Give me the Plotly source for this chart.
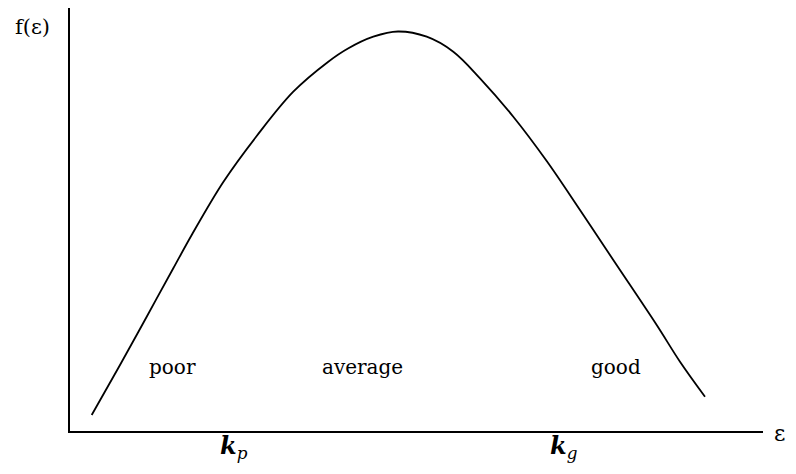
import plotly.graph_objects as go

# curve f(eps), eps measured from the axis origin
eps = [21.7, 50, 76.7, 103.3, 121.7, 153.3, 186.7, 223.3, 258.3, 278, 303.3, 328,
       356.7, 383.3, 410, 443.3, 476.7, 510, 543.3, 586.7, 610, 635]
f_eps = [16, 66, 114.3, 162.7, 196, 249, 295, 339.3, 369.3, 382.5, 394.3, 399.5,
         394.3, 379.3, 352.7, 314.3, 270, 221, 171, 106, 69.3, 34.3]

# region labels and threshold labels
region_names = ["poor", "average", "good"]
region_x = [102, 292, 546]
k_labels = ["p", "g"]
k_x = [164, 494]

X_MAX = 693
Y_MAX = 423
SERIF = "DejaVu Serif"


def note(x, y, text, size=20):
    # place text in paper units so it may sit outside the axes
    fig.add_annotation(x=x / X_MAX, y=y / Y_MAX, xref="paper", yref="paper", xanchor="center",
                       yanchor="middle", text=text, showarrow=False,
                       font=dict(family=SERIF, size=size, color="black"))


fig = go.Figure()
fig.add_trace(go.Scatter(x=eps, y=f_eps, mode="lines",
                         line=dict(color="black", width=1.8, shape="spline", smoothing=1),
                         hoverinfo="skip", showlegend=False))

for name, x in zip(region_names, region_x):
    note(x, 64, name)

for sub, x in zip(k_labels, k_x):
    note(x, -16, "<b><i>k</i></b><sub><i>%s</i></sub>" % sub, size=24)

# axis titles
note(-38, 404, "f(ε)", size=21)
note(709, -3, "ε", size=22)

fig.update_xaxes(range=[0, X_MAX], showline=True, linecolor="black", linewidth=2, showgrid=False,
                 zeroline=False, showticklabels=False, ticks="")
fig.update_yaxes(range=[0, Y_MAX], showline=True, linecolor="black", linewidth=2, showgrid=False,
                 zeroline=False, showticklabels=False, ticks="")
# page body adds an 8px offset, so the figure is drawn 8px smaller
fig.update_layout(width=788, height=466, margin=dict(l=62, r=33, t=0, b=43),
                  font=dict(family=SERIF), plot_bgcolor="white", paper_bgcolor="white")

fig.write_html("out.html")
